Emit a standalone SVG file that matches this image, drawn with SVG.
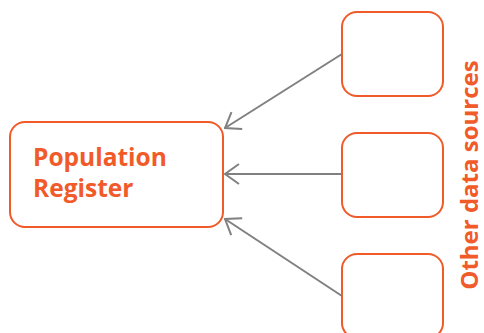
<svg xmlns="http://www.w3.org/2000/svg" width="484" height="333" viewBox="0 0 484 333">
<style>
.box{fill:#fff;stroke:#f15a29;stroke-width:2}
.lbl{fill:#f15a29;font-family:"Open Sans","Liberation Sans",sans-serif;font-weight:bold}
.conn{stroke:#808080;stroke-width:2;fill:none;marker-end:url(#arr)}
</style>
<defs>
<marker id="arr" markerWidth="16" markerHeight="22" refX="15" refY="11" orient="auto" markerUnits="userSpaceOnUse">
<path d="M1,1 L15,11 L1,21" fill="none" stroke="#808080" stroke-width="2"/>
</marker>
</defs>
<g id="population-register">
<rect class="box" x="10" y="122" width="213" height="105" rx="15"/>
<text class="lbl" font-size="24.5" x="33" y="166">Population</text>
<text class="lbl" font-size="24.5" x="33" y="197">Register</text>
</g>
<g id="source1"><rect class="box" x="342" y="12" width="101" height="84" rx="15"/></g>
<g id="source2"><rect class="box" x="342" y="133" width="101" height="84" rx="15"/></g>
<g id="source3"><rect class="box" x="342" y="254" width="101" height="84" rx="15"/></g>
<g id="label"><text class="lbl" font-size="24" text-anchor="middle" transform="translate(478,175) rotate(-90)">Other data sources</text></g>
<g id="connectors">
<line class="conn" x1="342" y1="54" x2="225" y2="128"/>
<line class="conn" x1="342" y1="174" x2="225" y2="174"/>
<line class="conn" x1="342" y1="296" x2="225" y2="219"/>
</g>
</svg>
